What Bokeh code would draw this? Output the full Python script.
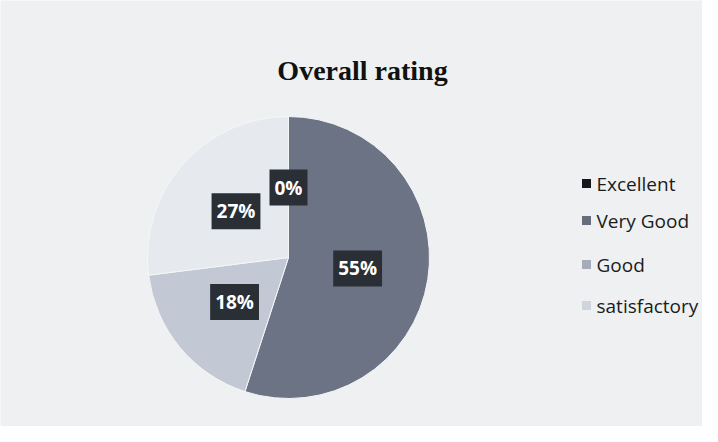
import math
from bokeh.plotting import figure
from bokeh.models import Range1d
from bokeh.core.properties import value
from bokeh.embed import file_html
from bokeh.resources import INLINE

title = "Overall rating"
categories = ["Excellent", "Very Good", "Good", "satisfactory"]
percents = [0, 55, 18, 27]
labels = ["0%", "55%", "18%", "27%"]
colors = ["#15171b", "#6b7384", "#c2c9d4", "#e6e9ee"]
legend_colors = ["#15171b", "#676d7c", "#a6adb9", "#d0d5dd"]

W, H = 702, 426
p = figure(width=W, height=H, output_backend="svg", toolbar_location=None,
           x_range=Range1d(0, W), y_range=Range1d(0, H), min_border=0)
p.axis.visible = False
p.grid.visible = False
p.outline_line_color = None
p.background_fill_color = "#eef0f2"
p.border_fill_color = "#eef0f2"

def py(yimg):
    return H - yimg

cx, cy, R = 288, py(257), 141
total = sum(percents)
cum = 0.0
wx, wy, sa, ea, wc = [], [], [], [], []
lx, ly = [], []
for v, c in zip(percents, colors):
    start = cum / total
    cum += v
    end = cum / total
    mid = (start + end) / 2
    a_mid = math.pi / 2 - 2 * math.pi * mid
    lx.append(cx + 70 * math.cos(a_mid))
    ly.append(cy + 70 * math.sin(a_mid))
    if v > 0:
        wx.append(cx); wy.append(cy)
        sa.append(math.pi / 2 - 2 * math.pi * start)
        ea.append(math.pi / 2 - 2 * math.pi * end)
        wc.append(c)

p.wedge(x=wx, y=wy, radius=R, start_angle=sa, end_angle=ea, direction="clock",
        fill_color=wc, line_color="#f4f6f8", line_width=1)

p.text(x=lx, y=ly, text=labels, text_color="white", text_font=value("Open Sans"),
       text_font_style="bold", text_font_size="19px", text_align="center",
       text_baseline="middle", background_fill_color="#2a2e35", padding=5)

p.text(x=[362], y=[py(70)], text=[title], text_font=value("Liberation Serif"),
       text_font_style="bold", text_font_size="28px", text_align="center",
       text_baseline="middle", text_color="#111111")

leg_y = [py(183), py(220), py(264), py(305)]
p.scatter(x=[586] * 4, y=leg_y, marker="square", size=9,
          fill_color=legend_colors, line_color=None)
p.text(x=[596] * 4, y=leg_y, text=categories, text_font=value("Open Sans"),
       text_font_size="19px", text_baseline="middle", text_color="#1a1c20")

open("out.html", "w").write(file_html(p, INLINE))
